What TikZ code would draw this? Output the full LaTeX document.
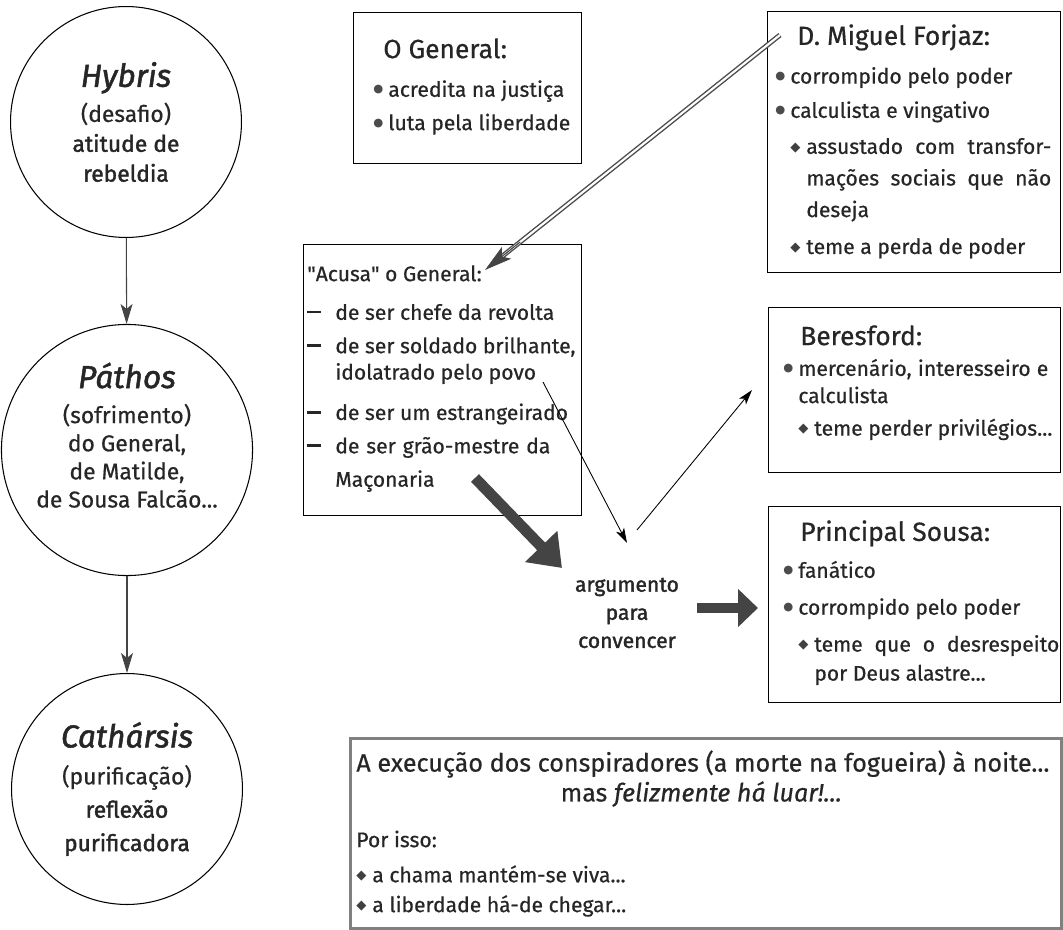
\documentclass[tikz,border=0pt]{standalone}
\usepackage{fontspec}
\setmainfont{Fira Sans}[FakeBold=0.6]
\newfontfamily\symfont{DejaVu Sans}
\newfontfamily\semib{Fira Sans}[FakeBold=1.6]
\usetikzlibrary{arrows.meta,calc}

\definecolor{ink}{HTML}{262626}
\definecolor{arrowgray}{HTML}{444444}

\newcommand{\bodyfs}{\fontsize{12}{17}\selectfont}
\newcommand{\titlefs}{\fontsize{15}{18}\selectfont}
\newcommand{\stagefs}{\fontsize{18}{20}\selectfont\semib\itshape}
\newcommand{\dotb}{\makebox[0.3cm][l]{\raisebox{0.35ex}{\symfont\fontsize{6.5}{6.5}\selectfont\textcolor{black!70}{●}}}}
\newcommand{\diab}{\makebox[0.32cm][l]{\raisebox{0.25ex}{\symfont\fontsize{7.5}{7.5}\selectfont\textcolor{black!75}{◆}}}}
\newcommand{\dash}{\makebox[0.56cm][l]{\textcolor{ink}{\rule[0.58ex]{0.27cm}{1.5pt}}}}
\newcommand{\sq}{{\addfontfeature{Ligatures=TeXOff}"}}

\tikzset{
  stage/.style={circle, draw, line width=0.6pt, minimum size=4.62cm, inner sep=0pt,
    align=center, text=ink, font=\fontsize{13}{16}\selectfont},
  frame/.style={draw, line width=0.8pt, anchor=north west, inner sep=0pt},
  txt/.style={anchor=north west, align=left, inner sep=0pt, text=ink, font=\bodyfs},
  flow/.style={line width=0.6pt, -{Stealth[length=0.4cm, width=0.24cm, inset=0.1cm]}, arrowgray},
  thin/.style={line width=0.5pt, -{Stealth[length=0.3cm, width=0.18cm, inset=0.08cm]}},
  heavy/.style={line width=0.22cm, arrowgray, -{Triangle[length=0.6cm, width=0.86cm]}}
}

\begin{document}
\begin{tikzpicture}[x=0.02cm, y=-0.02cm]
\useasboundingbox (0,0) rectangle (1063,930);

% stages on the left
\node[stage] (hybris) at (126,122) {{\stagefs Hybris}\\[4pt]
  (desafio)\\[1pt]{\semib atitude de}\\[1pt]{\semib rebeldia}};
\node[stage] (pathos) at (127,450) {{\stagefs Páthos}\\[4pt]
  (sofrimento)\\do General,\\de Matilde,\\de Sousa Falcão...\\[1pt]};
\node[stage] (catharsis) at (127,789) {{\stagefs Cathársis}\\[5pt]
  (purificação)\\[3pt]{\semib reflexão}\\[3pt]{\semib purificadora}};

\draw[flow] (hybris) -- (pathos);
\draw[flow] (pathos) -- (catharsis);

% boxes
\node[frame, minimum width=4.56cm, minimum height=3.02cm] (general) at (353,12) {};
\node[frame, minimum width=5.86cm, minimum height=5.22cm] (forjaz) at (767,11) {};
\node[frame, minimum width=5.56cm, minimum height=5.42cm] (acusa) at (303,244) {};
\node[frame, minimum width=5.84cm, minimum height=3.30cm] (beresford) at (768,307) {};
\node[frame, minimum width=5.84cm, minimum height=3.92cm] (sousa) at (768,506) {};
\node[frame, draw=black!50, line width=1.8pt, minimum width=14.22cm, minimum height=3.80cm] (final) at (349,737) {};

% texts
\node[txt] (generaltxt) at (373,38) {\hspace*{0.2cm}{\titlefs O General:}\\[5pt]
  \dotb acredita na justiça\\[2pt]
  \dotb luta pela liberdade};
\node[txt] (forjaztxt) at (775,24) {\hspace*{0.44cm}{\titlefs D. Miguel Forjaz:}\\[5pt]
  \dotb corrompido pelo poder\\[2.5pt]
  \dotb calculista e vingativo\\[3.5pt]
  \hspace*{0.3cm}\diab\makebox[4.9cm][s]{assustado com transfor-}\\[1pt]
  \hspace*{0.62cm}\makebox[4.9cm][s]{mações sociais que não}\\[1pt]
  \hspace*{0.62cm}deseja\\[4pt]
  \hspace*{0.3cm}\diab teme a perda de poder};
\node[txt] (acusatxt) at (307,265) {\sq Acusa\sq{} o General:\\[5pt]
  \dash de ser chefe da revolta\\[2pt]
  \dash de ser soldado brilhante,\\[-2pt]
  \hspace*{0.56cm}idolatrado pelo povo\\[6pt]
  \dash de ser um estrangeirado\\[2pt]
  \dash\makebox[4.3cm][s]{de ser grão-mestre da}\\[2pt]
  \hspace*{0.56cm}Maçonaria};
\node[txt] (beresfordtxt) at (783,325) {\hspace*{0.34cm}{\titlefs Beresford:}\\[0.5pt]
  \dotb\makebox[5.0cm][s]{mercenário, interesseiro e}\\[-1.5pt]
  \hspace*{0.3cm}calculista\\[1.5pt]
  \hspace*{0.3cm}\diab teme perder privilégios...};
\node[txt] (sousatxt) at (783,520) {\hspace*{0.34cm}{\titlefs Principal Sousa:}\\[4pt]
  \dotb fanático\\[4pt]
  \dotb corrompido pelo poder\\[4pt]
  \hspace*{0.3cm}\diab\makebox[4.9cm][s]{teme que o desrespeito}\\[-0.5pt]
  \hspace*{0.62cm}por Deus alastre...};
\node[txt] (finaltxt) at (356,750) {{\fontsize{14.3}{18}\selectfont A execução dos conspiradores (a morte na fogueira) à noite...}\\
  \makebox[13.8cm][c]{\fontsize{14.3}{18}\selectfont mas \textit{felizmente há luar!...}}\\[9pt]
  Por isso:\\[3pt]
  \diab a chama mantém-se viva...\\
  \diab a liberdade há-de chegar...};

\node[anchor=center, align=center, text=ink, font=\bodyfs\semib] (argumento) at (627,613) {argumento\\[-1pt]para\\[-1pt]convencer};

% connectors
\coordinate (forjazstart) at (780,35);
\coordinate (accusetip) at (485,270);
\draw[double=white, double distance=1.2pt, line width=0.8pt, draw=black!70, shorten >=0.4cm]
  (forjazstart) -- (accusetip);
\draw[arrowgray, line width=0.6pt, -{Stealth[length=0.55cm, width=0.3cm, inset=0.12cm]}]
  ($(accusetip)!0.9cm!(forjazstart)$) -- (accusetip);

\coordinate (povo) at (543,382);
\coordinate (argtop) at (627,543);
\coordinate (argright) at (637,530);
\coordinate (beresfordin) at (752,390);
\draw[thin] (povo) -- (argtop);
\draw[thin] (argright) -- (beresfordin);

\coordinate (maconaria) at (475,478);
\coordinate (argin) at (562,568);
\draw[heavy] (maconaria) -- (argin);
\coordinate (argout) at (697,608);
\coordinate (sousain) at (758,608);
\draw[heavy, line width=0.2cm, -{Triangle[length=0.4cm, width=0.74cm]}] (argout) -- (sousain);
\end{tikzpicture}
\end{document}
